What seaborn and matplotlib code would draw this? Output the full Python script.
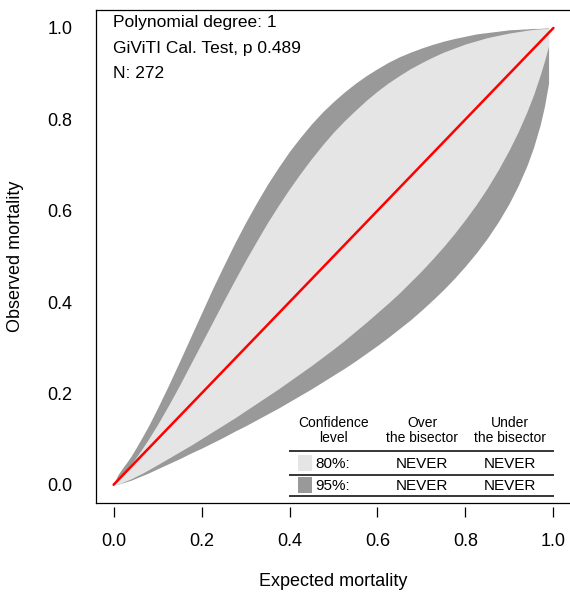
import pandas as pd
import seaborn as sns
import matplotlib
matplotlib.use("Agg")
import matplotlib.pyplot as plt
from matplotlib.patches import Rectangle

# calibration belt bounds
expected = [0.003, 0.01, 0.02, 0.03, 0.04, 0.05, 0.065, 0.08, 0.1, 0.125, 0.15, 0.175, 0.2, 0.225, 0.25,
            0.275, 0.3, 0.325, 0.35, 0.375, 0.4, 0.425, 0.45, 0.475, 0.5, 0.525, 0.55, 0.575, 0.6, 0.625,
            0.65, 0.675, 0.7, 0.725, 0.75, 0.775, 0.8, 0.825, 0.85, 0.875, 0.9, 0.92, 0.94, 0.955, 0.97,
            0.98, 0.989]
upper_95 = [0.008, 0.022, 0.036, 0.049, 0.063, 0.079, 0.104, 0.130, 0.168, 0.218, 0.270, 0.323, 0.376,
            0.429, 0.479, 0.528, 0.574, 0.617, 0.658, 0.695, 0.730, 0.761, 0.790, 0.816, 0.839, 0.860,
            0.879, 0.896, 0.911, 0.925, 0.937, 0.947, 0.956, 0.964, 0.971, 0.977, 0.982, 0.987, 0.990,
            0.993, 0.996, 0.997, 0.998, 0.999, 0.999, 1.000, 1.000]
upper_80 = [0.006, 0.013, 0.023, 0.034, 0.046, 0.058, 0.079, 0.101, 0.132, 0.174, 0.218, 0.264, 0.310,
            0.356, 0.402, 0.447, 0.491, 0.533, 0.574, 0.612, 0.648, 0.682, 0.714, 0.744, 0.772, 0.797,
            0.820, 0.842, 0.862, 0.880, 0.896, 0.911, 0.924, 0.936, 0.947, 0.956, 0.965, 0.972, 0.979,
            0.984, 0.989, 0.992, 0.995, 0.997, 0.998, 0.999, 0.999]
lower_80 = [0.000, 0.001, 0.005, 0.009, 0.013, 0.018, 0.025, 0.033, 0.044, 0.058, 0.072, 0.086, 0.101,
            0.116, 0.131, 0.146, 0.162, 0.178, 0.194, 0.210, 0.227, 0.244, 0.261, 0.279, 0.297, 0.316,
            0.336, 0.356, 0.377, 0.398, 0.420, 0.444, 0.468, 0.494, 0.521, 0.550, 0.581, 0.614, 0.650,
            0.690, 0.734, 0.773, 0.817, 0.854, 0.897, 0.929, 0.961]
lower_95 = [0.000, 0.001, 0.004, 0.007, 0.010, 0.014, 0.020, 0.026, 0.035, 0.046, 0.057, 0.069, 0.080,
            0.092, 0.104, 0.117, 0.129, 0.142, 0.155, 0.168, 0.182, 0.196, 0.210, 0.225, 0.240, 0.255,
            0.271, 0.288, 0.305, 0.323, 0.342, 0.361, 0.382, 0.404, 0.427, 0.452, 0.479, 0.508, 0.540,
            0.576, 0.617, 0.655, 0.699, 0.739, 0.788, 0.830, 0.879]

bisector = [0.0, 1.0]
ticks = [0.0, 0.2, 0.4, 0.6, 0.8, 1.0]
tick_labels = ["0.0", "0.2", "0.4", "0.6", "0.8", "1.0"]

info_lines = ["Polynomial degree: 1", "GiViTI Cal. Test, p 0.489", "N: 272"]
conf_levels = ["80%:", "95%:"]
over_bisector = ["NEVER", "NEVER"]
under_bisector = ["NEVER", "NEVER"]

light = "#E5E5E5"
dark = "#999999"

sns.set_style("white")
plt.rcParams["font.family"] = ["Liberation Sans", "DejaVu Sans"]
plt.rcParams["text.color"] = "black"

belt = pd.DataFrame({"expected": expected, "u95": upper_95, "u80": upper_80,
                     "l80": lower_80, "l95": lower_95})

fig = plt.figure(figsize=(5.7, 6.01), dpi=100)
ax = fig.add_axes([96 / 570, 98 / 601, 475 / 570, 493.3 / 601])

ax.fill_between(belt["expected"], belt["l95"], belt["u95"], color=dark, lw=0)
ax.fill_between(belt["expected"], belt["l80"], belt["u80"], color=light, lw=0)
sns.lineplot(x=bisector, y=bisector, color="red", linewidth=1.8, ax=ax)

ax.set_xlim(-0.04, 1.04)
ax.set_ylim(-0.04, 1.04)
for side in ["left", "top", "bottom", "right"]:
    ax.spines[side].set_color("black")
    ax.spines[side].set_linewidth(0.9)

ax.set_yticks(ticks)
ax.set_yticklabels(tick_labels)
ax.tick_params(axis="y", direction="out", length=8.6, width=0.9, pad=8.5, labelsize=13,
               colors="black", labelcolor="black")
ax.set_xticks([])

# x ticks hang a little below the box, like R's axis()
sec = ax.secondary_xaxis(-0.008)
sec.set_xticks(ticks)
sec.set_xticklabels(tick_labels)
sec.spines["bottom"].set_visible(False)
sec.tick_params(axis="x", direction="out", length=7.5, width=0.9, pad=11, labelsize=13,
                colors="black", labelcolor="black")

fig.text(333.5 / 570, 1 - 582 / 601, "Expected mortality", ha="center", va="center",
         fontsize=13, color="black")
fig.text(16 / 570, 1 - 256 / 601, "Observed mortality", ha="center", va="center",
         rotation=90, fontsize=13, color="black")

# info text, top left
for i, line in enumerate(info_lines):
    ax.text(-0.002, 1.011 - i * 0.0555, line, ha="left", va="center", fontsize=12.5, color="black")

# table of confidence levels, bottom right
for cx, top, bot in [(0.501, "Confidence", "level"), (0.702, "Over", "the bisector"),
                     (0.902, "Under", "the bisector")]:
    ax.text(cx, 0.136, top, ha="center", va="center", fontsize=10, color="black")
    ax.text(cx, 0.103, bot, ha="center", va="center", fontsize=10, color="black")

for yy in [0.0744, 0.0219, -0.0241]:
    ax.plot([0.3986, 1.0023], [yy, yy], color="black", lw=1.1, solid_capstyle="butt")

for lvl, ov, un, ry, by, col in zip(conf_levels, over_bisector, under_bisector,
                                    [0.046, -0.0036], [0.0306, -0.0175], [light, dark]):
    ax.add_patch(Rectangle((0.419, by), 0.032, 0.034, facecolor=col, edgecolor="none"))
    ax.text(0.458, ry, lvl, ha="left", va="center", fontsize=11, color="black")
    ax.text(0.702, ry, ov, ha="center", va="center", fontsize=11, color="black")
    ax.text(0.902, ry, un, ha="center", va="center", fontsize=11, color="black")

fig.savefig("out.png", dpi=100)
